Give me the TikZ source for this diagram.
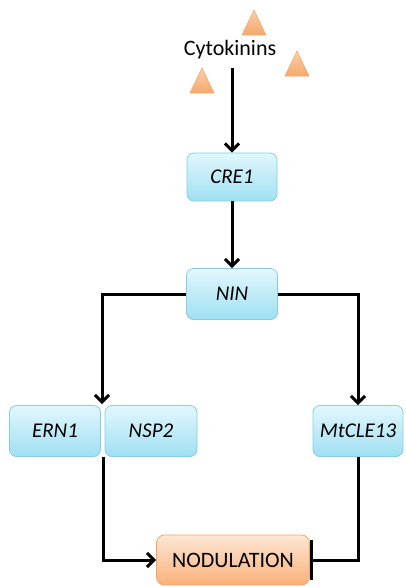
\documentclass[tikz,border=0pt]{standalone}
\usepackage{fontspec}
\setmainfont{Carlito}
\usetikzlibrary{arrows.meta,shadings}
\definecolor{boxedge}{HTML}{86CDE5}
\definecolor{boxtop}{HTML}{E2F7FD}
\definecolor{boxbot}{HTML}{9FE0F2}
\definecolor{orgedge}{HTML}{F2A56C}
\definecolor{orgtop}{HTML}{FDE7D4}
\definecolor{orgbot}{HTML}{F9B07A}
\definecolor{tritop}{HTML}{FBCFA8}
\definecolor{tribot}{HTML}{F6A86C}
\tikzset{
  genebox/.style={draw=boxedge, line width=0.8pt, rounded corners=7pt,
    top color=boxtop, bottom color=boxbot, minimum width=91pt, minimum height=51pt,
    font=\fontsize{21}{25}\selectfont\itshape, text=black},
  nodbox/.style={draw=orgedge, line width=0.8pt, rounded corners=8pt,
    top color=orgtop, bottom color=orgbot, minimum width=153pt, minimum height=50pt,
    font=\fontsize{22}{26}\selectfont, text=black},
  tri/.style={draw=orgedge, line width=0.5pt, top color=tritop, bottom color=tribot},
  conn/.style={line width=3pt, -{Straight Barb[length=7pt,width=14pt,line width=3pt]}},
  inhib/.style={line width=3pt, -{Bar[width=40pt,line width=3.5pt]}}
}
\begin{document}
\begin{tikzpicture}[x=1pt,y=-1pt]
\useasboundingbox (0,0) rectangle (405,587);
% cytokinin triangles
\path[tri] (242,35) -- (266,35) -- (254,10) -- cycle;
\path[tri] (285,76) -- (309,76) -- (297,51) -- cycle;
\path[tri] (190,93) -- (214,93) -- (202,68) -- cycle;
\node[font=\fontsize{22}{26}\selectfont, inner sep=0pt] (cyto) at (230,50) {Cytokinins};
\coordinate (cytoout) at (232,68);
% boxes
\node[genebox, minimum width=90pt, minimum height=48pt] (cre) at (232,177) {CRE1};
\node[genebox] (nin) at (232,294) {NIN};
\node[genebox] (ern) at (55,431) {ERN1};
\node[genebox, minimum width=92pt] (nsp) at (151,431) {NSP2};
\node[genebox, minimum width=90pt] (mt) at (358,431) {MtCLE13};
\node[nodbox] (nod) at (233,560) {NODULATION};
\coordinate (splittop) at (102,404);
\coordinate (splitbot) at (103,457);
% connectors
\draw[conn] (cytoout) -- (cre.north);
\draw[conn] (cre.south) -- (nin.north);
\draw[conn] (nin.west) -| (splittop);
\draw[conn] (nin.east) -| (mt.north);
\draw[conn] (splitbot) |- (nod.west);
\draw[inhib] (mt.south) |- (nod.east);
\end{tikzpicture}
\end{document}
